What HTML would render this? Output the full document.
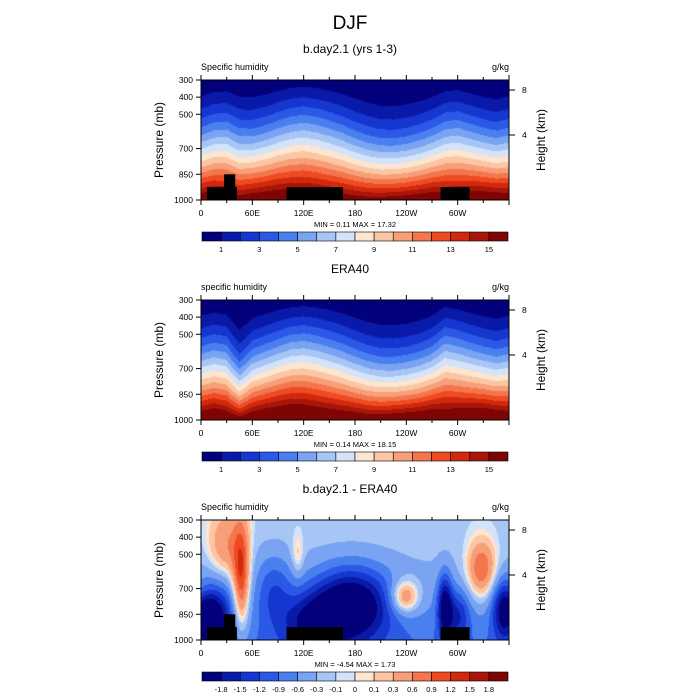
<!DOCTYPE html>
<html><head><meta charset="utf-8">
<style>
body{margin:0;background:#fff;}
#wrap{position:relative;width:700px;height:700px;font-family:"Liberation Sans",sans-serif;color:#000;}
.t{position:absolute;white-space:nowrap;}
canvas{position:absolute;}
</style></head>
<body>
<div id="wrap">
<div class="t" style="left:0;width:700px;text-align:center;top:13px;font-size:19px">DJF</div>
<svg id="svg" width="700" height="700" style="position:absolute;left:0;top:0"></svg>
</div>
<script>
// ---- data ----
const lonSamples = [0,15,30,45,60,75,90,105,120,135,150,165,180,195,210,225,240,255,270,285,300,315,330,345,360];
const modelShapeK = [1.7,1.55,1.5,1.7,1.75,1.65,1.5,1.38,1.33,1.38,1.47,1.6,1.78,1.95,2.08,2.12,2.05,1.92,1.75,1.5,1.45,1.6,1.75,1.85,1.7];
const eraShapeK   = [1.7,1.6,1.65,2.3,1.8,1.65,1.5,1.38,1.33,1.38,1.47,1.6,1.78,1.95,2.08,2.12,2.05,1.92,1.72,1.35,1.45,1.6,1.75,1.85,1.7];
const modelSurfQ = [16.5,16.8,16.5,16.0,16.5,16.8,17.0,17.0,17.0,16.8,16.5,16.3,16.0,15.8,15.8,16.0,16.2,16.5,16.8,16.5,16.5,16.8,17.0,16.8,16.5];
const eraSurfQ   = [17.0,17.5,17.0,16.0,17.0,17.5,17.8,18.0,17.8,17.5,17.2,17.0,16.8,16.5,16.5,16.8,17.0,17.2,17.5,17.0,17.2,17.5,17.8,17.5,17.0];
// difference anomalies: lon, pressure, amplitude, lon width, p width
const diffLon = [47,28,113,238,328,176,5,355,285,130,85,300,20];
const diffP   = [640,470,510,750,590,790,900,820,800,900,700,850,820];
const diffAmp = [1.5,0.8,0.45,1.2,1.2,-1.9,-1.8,-1.6,-1.5,-1.1,-0.7,-0.9,-1.0];
const diffLW  = [7,14,5,12,12,32,12,10,6,25,15,10,15];
const diffPW  = [230,160,90,70,120,150,100,120,130,120,150,100,150];
const levelsQ = [1,2,3,4,5,6,7,8,9,10,11,12,13,14,15];
const labelsQ = ['1','3','5','7','9','11','13','15'];
const levelsD = [-1.8,-1.5,-1.2,-0.9,-0.6,-0.3,-0.1,0,0.1,0.3,0.6,0.9,1.2,1.5,1.8];
const pTicks = [300,400,500,700,850,1000];
const lonTicks = [0,60,120,180,240,300];
const lonLabels = ['0','60E','120E','180','120W','60W'];
const hTicks = [8,4];
const hPos = [90,135];
const landLon0 = [7,27,100,280];
const landLon1 = [42,40,166,314];
const landP = [925,850,925,925];

const colors = ['#03007c','#0a1aa8','#1536cf','#2b59e6','#4a7ff0','#7aa3f2','#a8c6f5','#d3e3fa','#fde5d0','#fbc6a4','#f79f79','#f3764f','#ef4b23','#d0290d','#a8150a','#7f0505'];

const X0=201,X1=509,W=308,PH=120;
const xOf=lon=>X0+lon/360*W;
const NS='http://www.w3.org/2000/svg';
const svg=document.getElementById('svg');
function el(tag,attrs,parent){const e=document.createElementNS(NS,tag);for(const k in attrs)e.setAttribute(k,attrs[k]);(parent||svg).appendChild(e);return e;}
function interp(arr,lon){const i=Math.min(23,Math.floor(lon/15));const f=(lon-i*15)/15;return arr[i]*(1-f)+arr[i+1]*f;}
function colIdx(v,lv){let i=0;while(i<lv.length&&v>=lv[i])i++;return i;}
function hexRgb(h){return [parseInt(h.substr(1,2),16),parseInt(h.substr(3,2),16),parseInt(h.substr(5,2),16)];}
const rgbs=colors.map(hexRgb);

function panel(off,title,left,field,lv,lvLabels,minmax,land,idx){
  const Y0=80+off, Y1=Y0+PH;
  const yOf=p=>Y0+(p-300)/700*PH;
  const t=document.createElement('div');t.className='t';
  
  
  t.style.cssText=`left:0;width:700px;text-align:center;top:${off+42}px;font-size:12px`;t.textContent=title;
  document.getElementById('wrap').appendChild(t);
  const cv=document.createElement('canvas');cv.width=W;cv.height=PH;cv.style.left=X0+'px';cv.style.top=Y0+'px';
  
  
  document.getElementById('wrap').insertBefore(cv,svg);
  const ctx=cv.getContext('2d');const img=ctx.createImageData(W,PH);
  for(let j=0;j<PH;j++){const p=300+(j+0.5)/PH*700;for(let i=0;i<W;i++){const lon=(i+0.5)/W*360;
    const c=rgbs[colIdx(field(lon,p),lv)];const k=(j*W+i)*4;img.data[k]=c[0];img.data[k+1]=c[1];img.data[k+2]=c[2];img.data[k+3]=255;}}
  ctx.putImageData(img,0,0);
  const g=el('g',{});
  
  
  if(land){for(let i=0;i<landLon0.length;i++){const r=el('rect',{x:xOf(landLon0[i]),y:yOf(landP[i]),width:xOf(landLon1[i])-xOf(landLon0[i]),height:Y1-yOf(landP[i]),fill:'#000'},g);
    
    }}
  el('rect',{x:X0,y:Y0,width:W,height:PH,fill:'none',stroke:'#000','stroke-width':1},g);
  pTicks.forEach(p=>{const y=yOf(p);el('line',{x1:X0-5,x2:X0,y1:y,y2:y,stroke:'#000'},g);
    const tx=el('text',{x:X0-8,y:y+3,'font-size':8.5,'text-anchor':'end'},g);tx.textContent=p;});
  for(let l=0;l<=360;l+=30){const x=xOf(l);el('line',{x1:x,x2:x,y1:Y1,y2:Y1+(l%60==0?5:3),stroke:'#000'},g);el('line',{x1:x,x2:x,y1:Y0,y2:Y0-(l%60==0?5:3),stroke:'#000'},g);}
  lonTicks.forEach((l,i)=>{const tx=el('text',{x:xOf(l),y:Y1+16,'font-size':8.5,'text-anchor':'middle'},g);tx.textContent=lonLabels[i];});
  hTicks.forEach((h,i)=>{const y=hPos[i]+off;el('line',{x1:X1,x2:X1+6,y1:y,y2:y,stroke:'#000'},g);const tx=el('text',{x:X1+13,y:y+3,'font-size':8.5},g);tx.textContent=h;});
  let tx=el('text',{x:X0,y:Y0-10,'font-size':9},g);tx.textContent=left;
  tx=el('text',{x:X1,y:Y0-10,'font-size':9,'text-anchor':'end'},g);tx.textContent='g/kg';
  tx=el('text',{transform:`translate(163,${Y0+60}) rotate(-90)`,'font-size':12,'text-anchor':'middle'},g);tx.textContent='Pressure (mb)';
  tx=el('text',{transform:`translate(545,${Y0+60}) rotate(-90)`,'font-size':12,'text-anchor':'middle'},g);tx.textContent='Height (km)';
  tx=el('text',{x:355,y:Y1+27,'font-size':7.5,'text-anchor':'middle'},g);tx.textContent=minmax;
  const cb=el('g',{});
  
  
  const cx0=202,cw=306/16,cy=off+232;
  colors.forEach((c,i)=>el('rect',{x:cx0+i*cw,y:cy,width:cw,height:9,fill:c,stroke:'#000','stroke-width':0.6},cb));
  lvLabels.forEach((s,i)=>{const bi=lv.length===15&&lvLabels.length===8?i*2:i;const t2=el('text',{x:cx0+(bi+1)*cw,y:cy+20,'font-size':7.5,'text-anchor':'middle'},cb);t2.textContent=s;});
}
function prof(qs,k,p){return qs*Math.pow(Math.max(0,(p-250)/750),k);}
function fModel(lon,p){return prof(interp(modelSurfQ,lon),interp(modelShapeK,lon),p);}
function fEra(lon,p){return prof(interp(eraSurfQ,lon),interp(eraShapeK,lon),p);}
function fDiff(lon,p){let v=-0.15-0.7*Math.pow((p-300)/700,1.5);
  for(let i=0;i<diffLon.length;i++){const dl=lon-diffLon[i],dp=p-diffP[i];v+=diffAmp[i]*Math.exp(-(dl*dl)/(2*diffLW[i]*diffLW[i])-(dp*dp)/(2*diffPW[i]*diffPW[i]));}
  return v;}
panel(0,'b.day2.1 (yrs 1-3)','Specific humidity',fModel,levelsQ,labelsQ,'MIN =   0.11  MAX =  17.32',true,1);
panel(220,'ERA40','specific humidity',fEra,levelsQ,labelsQ,'MIN =   0.14  MAX =  18.15',false,2);
panel(440,'b.day2.1 - ERA40','Specific humidity',fDiff,levelsD,levelsD.map(String),'MIN =  -4.54  MAX =   1.73',true,3);
</script>
</body></html>
